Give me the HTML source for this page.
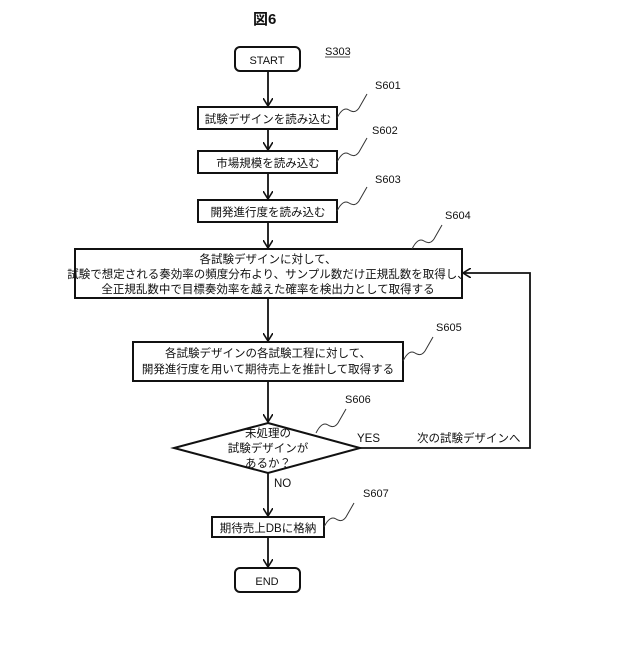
<!DOCTYPE html>
<html><head><meta charset="utf-8"><style>
body{margin:0;background:#fff}
svg text{font-family:"Liberation Sans","Noto Sans CJK JP",sans-serif;fill:#111}
</style></head><body>
<svg width="640" height="640" viewBox="0 0 640 640" xmlns="http://www.w3.org/2000/svg">
<defs><marker id="a" markerWidth="10" markerHeight="10" refX="8" refY="5" orient="auto" markerUnits="userSpaceOnUse"><path d="M0,0 L8,5 L0,10" fill="none" stroke="#111" stroke-width="1.6"/></marker></defs>
<g stroke="#111" stroke-width="2" fill="none">
<rect x="235" y="47" width="65" height="24" rx="5"/>
<rect x="198" y="107" width="139" height="22"/>
<rect x="198" y="151" width="139" height="22"/>
<rect x="198" y="200" width="139" height="22"/>
<rect x="75" y="249" width="387" height="49"/>
<rect x="133" y="342" width="270" height="39"/>
<polygon points="268,423 360,448 268,473 174,448"/>
<rect x="212" y="517" width="112" height="20"/>
<rect x="235" y="568" width="65" height="24" rx="5"/>
</g>
<g stroke="#111" stroke-width="1.8" fill="none" marker-end="url(#a)">
<line x1="268" y1="71" x2="268" y2="106"/>
<line x1="268" y1="129" x2="268" y2="150"/>
<line x1="268" y1="173" x2="268" y2="199"/>
<line x1="268" y1="222" x2="268" y2="248"/>
<line x1="268" y1="298" x2="268" y2="341"/>
<line x1="268" y1="381" x2="268" y2="422"/>
<line x1="268" y1="473" x2="268" y2="516"/>
<line x1="268" y1="537" x2="268" y2="567"/>
<polyline points="360,448 530,448 530,273 463,273"/>
</g>
<g stroke="#333" stroke-width="1" fill="none">
<path d="M337,118 q6,-12 12,-8 t10,-2 l8,-14"/>
<path d="M337,162 q6,-12 12,-8 t10,-2 l8,-14"/>
<path d="M337,211 q6,-12 12,-8 t10,-2 l8,-14"/>
<path d="M412,249 q6,-12 12,-8 t10,-2 l8,-14"/>
<path d="M403,361 q6,-12 12,-8 t10,-2 l8,-14"/>
<path d="M316,433 q6,-12 12,-8 t10,-2 l8,-14"/>
<path d="M324,527 q6,-12 12,-8 t10,-2 l8,-14"/>
</g>
<text x="253" y="24" font-size="15" font-weight="bold">図6</text>
<text x="267" y="64" font-size="11" text-anchor="middle">START</text>
<text x="325" y="55" font-size="11">S303</text>
<line x1="325" y1="57" x2="350" y2="57" stroke="#111" stroke-width="0.8"/>
<text x="375" y="89" font-size="11">S601</text>
<text x="372" y="134" font-size="11">S602</text>
<text x="375" y="183" font-size="11">S603</text>
<text x="445" y="219" font-size="11">S604</text>
<text x="436" y="331" font-size="11">S605</text>
<text x="345" y="403" font-size="11">S606</text>
<text x="363" y="497" font-size="11">S607</text>
<g font-size="11.5" text-anchor="middle">
<text x="268" y="123">試験デザインを読み込む</text>
<text x="268" y="167">市場規模を読み込む</text>
<text x="268" y="216">開発進行度を読み込む</text>
<text x="268" y="263">各試験デザインに対して、</text>
<text x="268" y="278">試験で想定される奏効率の頻度分布より、サンプル数だけ正規乱数を取得し、</text>
<text x="268" y="293">全正規乱数中で目標奏効率を越えた確率を検出力として取得する</text>
<text x="268" y="357">各試験デザインの各試験工程に対して、</text>
<text x="268" y="373">開発進行度を用いて期待売上を推計して取得する</text>
<text x="268" y="437">未処理の</text>
<text x="268" y="452">試験デザインが</text>
<text x="268" y="467">あるか？</text>
<text x="268" y="532">期待売上DBに格納</text>
<text x="267" y="585" font-size="11">END</text>
</g>
<text x="357" y="442" font-size="11.5">YES</text>
<text x="417" y="442" font-size="11.5">次の試験デザインへ</text>
<text x="274" y="487" font-size="11.5">NO</text>
</svg>
</body></html>
